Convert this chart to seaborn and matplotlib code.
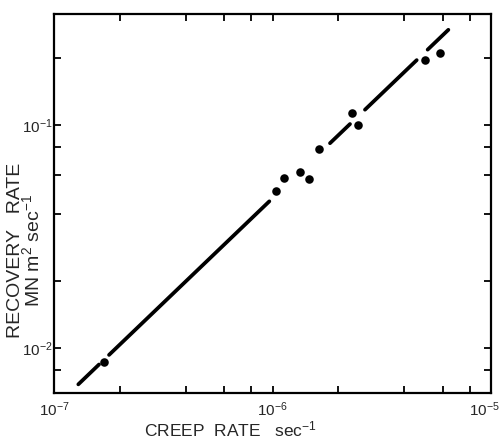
import numpy as np
import pandas as pd
import matplotlib
matplotlib.use("Agg")
import matplotlib.pyplot as plt
import matplotlib.ticker as mticker
import matplotlib.transforms as mtransforms
import seaborn as sns

# ---- data ----
creep_rate = [1.69e-7, 1.035e-6, 1.13e-6, 1.33e-6, 1.47e-6, 1.63e-6,
              2.30e-6, 2.47e-6, 4.99e-6, 5.86e-6]
recovery_rate = [0.00865, 0.0510, 0.0583, 0.0620, 0.0574, 0.0787,
                 0.114, 0.100, 0.197, 0.211]

# fitted line: log-log line through (FIT_X0, FIT_Y0) with FIT_SLOPE
FIT_X0 = 1.292e-7
FIT_Y0 = 6.90e-3
FIT_SLOPE = 0.939
# visible pieces of the fitted line (x start, x end)
fit_segments = [(1.292e-7, 1.607e-7), (1.786e-7, 9.67e-7),
                (1.833e-6, 2.263e-6), (2.65e-6, 4.57e-6),
                (5.13e-6, 6.38e-6)]

x_ticks = [1e-7, 1e-6, 1e-5]
x_ticklabels = [r"$10^{-7}$", r"$10^{-6}$", r"$10^{-5}$"]
y_ticks = [1e-2, 1e-1]
y_ticklabels = [r"$10^{-2}$", r"$10^{-1}$"]

sns.set_style("ticks")
plt.rcParams['font.family'] = ['Liberation Sans', 'DejaVu Sans']
plt.rcParams['mathtext.fontset'] = 'custom'
plt.rcParams['mathtext.rm'] = 'Liberation Sans'
plt.rcParams['mathtext.it'] = 'Liberation Sans:italic'
plt.rcParams['mathtext.bf'] = 'Liberation Sans:bold'

fig = plt.figure(figsize=(5.01, 4.41), dpi=100)
ax = fig.add_axes([54/501, 1-393/441, (491-54)/501, (393-14)/441])

df = pd.DataFrame({"creep": creep_rate, "recovery": recovery_rate})

for xs, xe in fit_segments:
    seg_x = np.array([xs, xe])
    seg_y = FIT_Y0 * (seg_x / FIT_X0) ** FIT_SLOPE
    ax.plot(seg_x, seg_y, color='black', lw=2.7, solid_capstyle='round')

sns.scatterplot(data=df, x="creep", y="recovery", ax=ax, color='black',
                s=38, edgecolor='black', linewidth=0, zorder=3)

ax.set_xscale('log')
ax.set_yscale('log')
ax.set_xlim(1e-7, 1e-5)
ax.set_ylim(10**-2.2, 10**-0.5)

ax.xaxis.set_major_locator(mticker.FixedLocator(x_ticks))
ax.yaxis.set_major_locator(mticker.FixedLocator(y_ticks))
ax.xaxis.set_minor_locator(mticker.LogLocator(base=10, subs=(2, 4, 6, 8)))
ax.yaxis.set_minor_locator(mticker.LogLocator(base=10, subs=(2, 4, 6, 8)))
ax.xaxis.set_minor_formatter(mticker.NullFormatter())
ax.yaxis.set_minor_formatter(mticker.NullFormatter())
ax.set_xticklabels(x_ticklabels)
ax.set_yticklabels(y_ticklabels)

ax.tick_params(which='both', direction='in', top=True, right=True,
               length=5, width=1.3, color='black', labelsize=11)
ax.tick_params(axis='x', pad=5)
ax.tick_params(axis='y', pad=1)

# keep last x tick label inside the canvas
last = ax.get_xticklabels()[-1]
last.set_horizontalalignment('right')
last.set_transform(last.get_transform() +
                   mtransforms.ScaledTranslation(9/100, 0, fig.dpi_scale_trans))

for sp in ax.spines.values():
    sp.set_visible(True)
    sp.set_linewidth(1.6)
    sp.set_color('black')

ax.set_xlabel(r"CREEP  RATE   sec$^{-1}$", fontsize=12.5)
ax.xaxis.set_label_coords(0.403, -0.07)
ax.set_ylabel("RECOVERY   RATE\n" + r"MN m$^{2}$ sec$^{-1}$", fontsize=14,
              linespacing=0.85)
ax.yaxis.set_label_coords(-0.024, 0.375)

fig.savefig("out.png", dpi=100)
